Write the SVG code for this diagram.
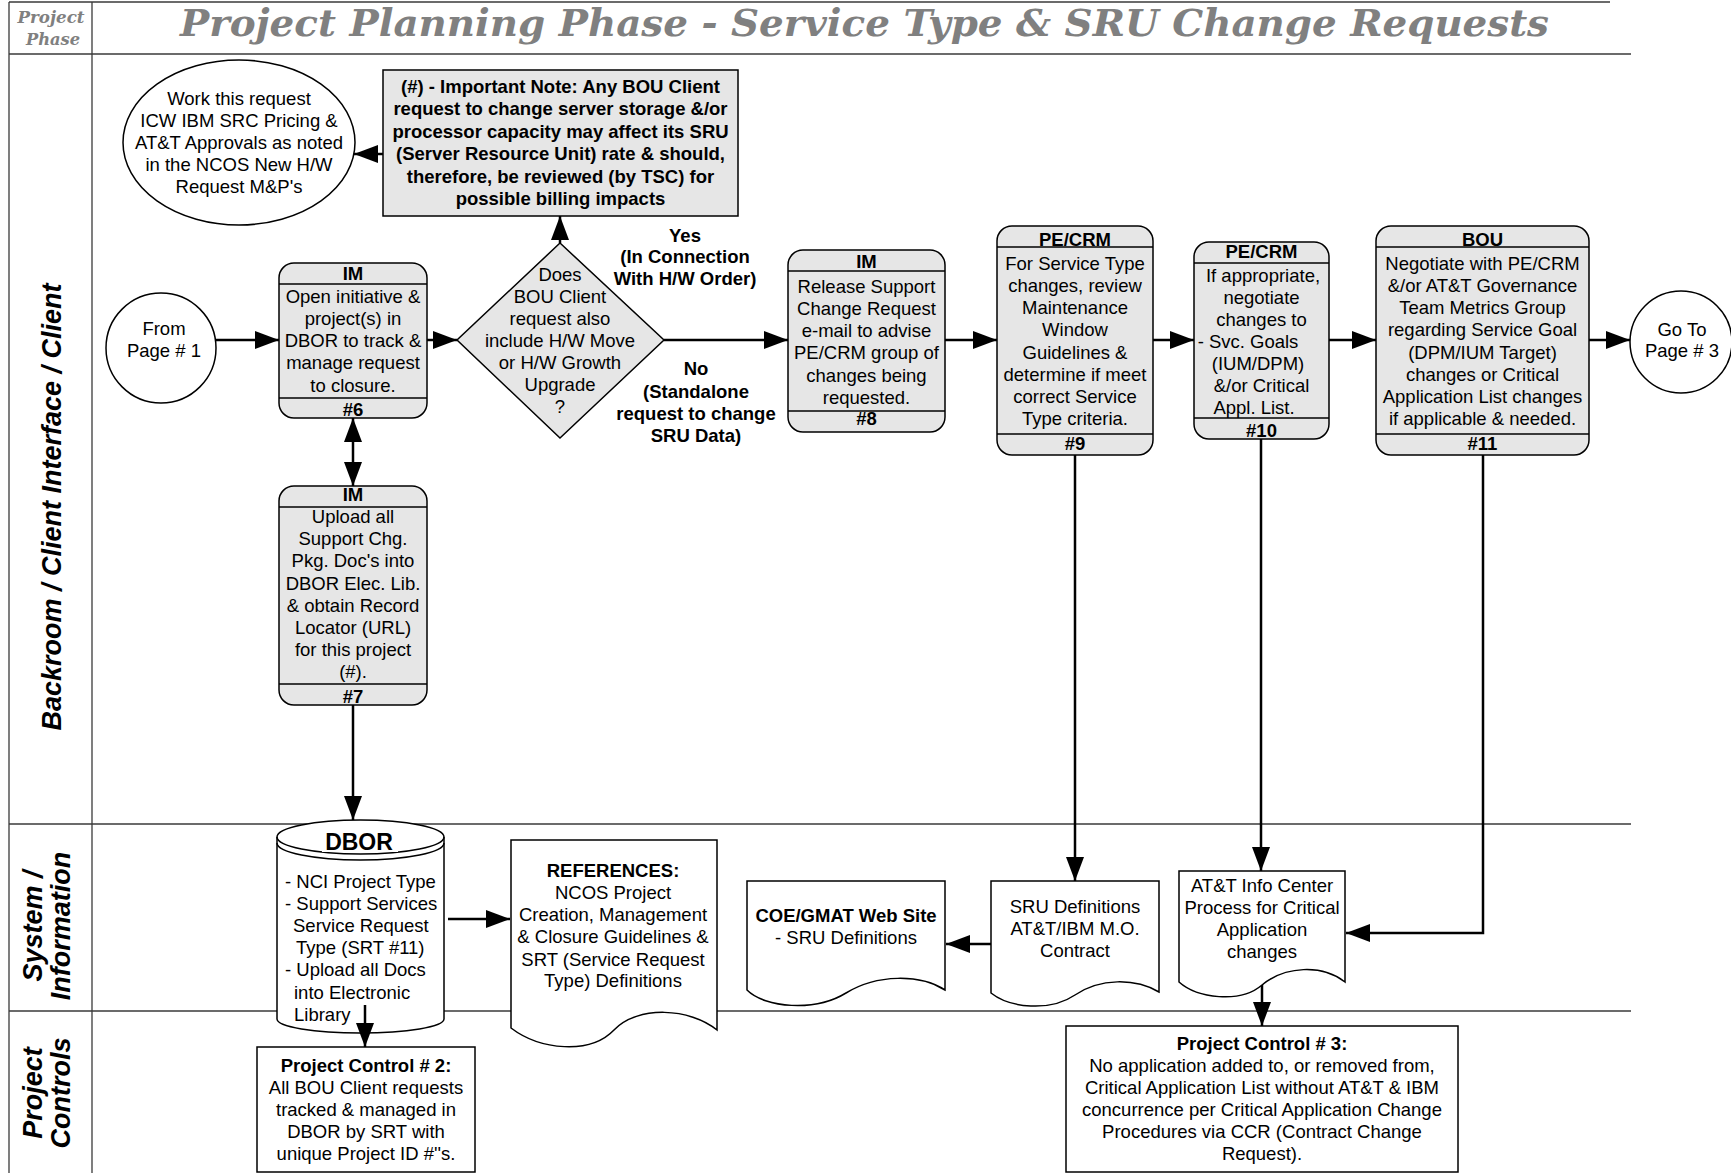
<svg xmlns="http://www.w3.org/2000/svg" width="1731" height="1173" viewBox="0 0 1731 1173">
<style>
.lane{stroke:#3a3a3a;stroke-width:1.3;fill:none}
.box{fill:#e6e6e6;stroke:#000;stroke-width:1.5}
.wbox{fill:#fff;stroke:#000;stroke-width:1.5}
.div{stroke:#000;stroke-width:1.5}
.t{font-family:"Liberation Sans",Arial,sans-serif;font-size:18.5px;text-anchor:middle;fill:#000}
.ts{font-family:"Liberation Sans",Arial,sans-serif;font-size:18.5px;text-anchor:start;fill:#000}
.b{font-weight:bold}
.conn{stroke:#000;stroke-width:2.5;fill:none;marker-end:url(#ah)}
.hdr{font-family:"DejaVu Serif","Liberation Serif",serif;font-weight:bold;font-style:italic;fill:#808080}
.ll{font-family:"Liberation Sans",Arial,sans-serif;font-weight:bold;font-style:italic;font-size:27px;text-anchor:middle;fill:#000}
</style>
<defs>
<marker id="ah" markerUnits="userSpaceOnUse" markerWidth="24" markerHeight="18" refX="24" refY="9" orient="auto-start-reverse">
<path d="M0,0 L24,9 L0,18 z" fill="#000"/>
</marker>
</defs>
<rect width="1731" height="1173" fill="#fff"/>
<g id="lanes">
<line class="lane" x1="9" y1="2" x2="1610" y2="2"/>
<line class="lane" x1="9" y1="54" x2="1631" y2="54"/>
<line class="lane" x1="9" y1="824" x2="1631" y2="824"/>
<line class="lane" x1="9" y1="1011" x2="1631" y2="1011"/>
<line class="lane" x1="9" y1="2" x2="9" y2="1173"/>
<line class="lane" x1="92" y1="2" x2="92" y2="1173"/>
<text class="hdr" x="51" y="23" font-size="16" text-anchor="middle" textLength="67" lengthAdjust="spacingAndGlyphs">Project</text>
<text class="hdr" x="53" y="45" font-size="16" text-anchor="middle" textLength="54" lengthAdjust="spacingAndGlyphs">Phase</text>
<text class="hdr" x="180" y="36" font-size="38" textLength="1369" lengthAdjust="spacingAndGlyphs">Project Planning Phase - Service Type &amp; SRU Change Requests</text>
<text class="ll" transform="translate(61,507) rotate(-90)">Backroom / Client Interface / Client</text>
<text class="ll" transform="translate(42,926) rotate(-90)"><tspan x="0" y="0">System /</tspan><tspan x="0" y="28">Information</tspan></text>
<text class="ll" transform="translate(42,1093) rotate(-90)"><tspan x="0" y="0">Project</tspan><tspan x="0" y="28">Controls</tspan></text>
</g>
<g id="connectors">
<path class="conn" d="M383 154 L354 154"/>
<path class="conn" d="M216 340 L279 340"/>
<path class="conn" d="M427 340 L457 340"/>
<path class="conn" d="M560 243 L560 216"/>
<path class="conn" d="M664 340 L788 340"/>
<path class="conn" d="M945 340 L997 340"/>
<path class="conn" d="M1153 340 L1194 340"/>
<path class="conn" d="M1329 340 L1376 340"/>
<path class="conn" d="M1589 340 L1630 340"/>
<path class="conn" d="M353 418 L353 486" marker-start="url(#ah)"/>
<path class="conn" d="M353 705 L353 820"/>
<path class="conn" d="M448 919 L510 919"/>
<path class="conn" d="M1075 455 L1075 881"/>
<path class="conn" d="M1261 439 L1261 871"/>
<path class="conn" d="M1483 455 L1483 933 L1346 933"/>
<path class="conn" d="M991 944 L946 944"/>
<path class="conn" d="M1262 983 L1262 1026"/>
</g>
<g id="work-circle">
<ellipse class="wbox" cx="239" cy="142.5" rx="116" ry="82.5"/>
<text class="t" x="239" y="105">Work this request</text>
<text class="t" x="239" y="127">ICW IBM SRC Pricing &amp;</text>
<text class="t" x="239" y="149">AT&amp;T Approvals as noted</text>
<text class="t" x="239" y="171">in  the NCOS New H/W</text>
<text class="t" x="239" y="193">Request M&amp;P's</text>
</g>
<g id="note">
<rect class="box" x="383" y="70" width="355" height="146"/>
<text class="t b" x="560.5" y="93">(#) - Important Note: Any BOU Client</text>
<text class="t b" x="560.5" y="115">request to change server storage &amp;/or</text>
<text class="t b" x="560.5" y="138">processor capacity may affect its SRU</text>
<text class="t b" x="560.5" y="160">(Server Resource Unit) rate &amp; should,</text>
<text class="t b" x="560.5" y="183">therefore, be reviewed (by TSC) for</text>
<text class="t b" x="560.5" y="205">possible billing impacts</text>
</g>
<g id="from-page1">
<ellipse class="wbox" cx="161" cy="348" rx="55" ry="55"/>
<text class="t" x="164" y="335">From</text>
<text class="t" x="164" y="357">Page # 1</text>
</g>
<g id="step6">
<rect class="box" x="279" y="263" width="148" height="155" rx="15"/>
<line class="div" x1="279" y1="284" x2="427" y2="284"/>
<line class="div" x1="279" y1="398" x2="427" y2="398"/>
<text class="t b" x="353" y="280">IM</text>
<text class="t" x="353" y="303">Open initiative &amp;</text>
<text class="t" x="353" y="325">project(s) in</text>
<text class="t" x="353" y="347">DBOR to track &amp;</text>
<text class="t" x="353" y="369">manage request</text>
<text class="t" x="353" y="392">to closure.</text>
<text class="t b" x="353" y="416">#6</text>
</g>
<g id="decision">
<polygon class="box" points="560,243 664,340 560,438 457,340"/>
<text class="t" x="560" y="281">Does</text>
<text class="t" x="560" y="303">BOU Client</text>
<text class="t" x="560" y="325">request also</text>
<text class="t" x="560" y="347">include H/W Move</text>
<text class="t" x="560" y="369">or H/W Growth</text>
<text class="t" x="560" y="391">Upgrade</text>
<text class="t" x="560" y="413">?</text>
</g>
<g id="yes-label">
<text class="t b" x="685" y="242">Yes</text>
<text class="t b" x="685" y="263">(In Connection</text>
<text class="t b" x="685" y="285">With H/W Order)</text>
</g>
<g id="no-label">
<text class="t b" x="696" y="375">No</text>
<text class="t b" x="696" y="398">(Standalone</text>
<text class="t b" x="696" y="420">request to change</text>
<text class="t b" x="696" y="442">SRU Data)</text>
</g>
<g id="step8">
<rect class="box" x="788" y="250" width="157" height="182" rx="15"/>
<line class="div" x1="788" y1="271" x2="945" y2="271"/>
<line class="div" x1="788" y1="411" x2="945" y2="411"/>
<text class="t b" x="866.5" y="268">IM</text>
<text class="t" x="866.5" y="293">Release Support</text>
<text class="t" x="866.5" y="315">Change Request</text>
<text class="t" x="866.5" y="337">e-mail  to advise</text>
<text class="t" x="866.5" y="359">PE/CRM group of</text>
<text class="t" x="866.5" y="382">changes being</text>
<text class="t" x="866.5" y="404">requested.</text>
<text class="t b" x="866.5" y="425">#8</text>
</g>
<g id="step9">
<rect class="box" x="997" y="226" width="156" height="229" rx="15"/>
<line class="div" x1="997" y1="247" x2="1153" y2="247"/>
<line class="div" x1="997" y1="434" x2="1153" y2="434"/>
<text class="t b" x="1075" y="246">PE/CRM</text>
<text class="t" x="1075" y="270">For Service Type</text>
<text class="t" x="1075" y="292">changes, review</text>
<text class="t" x="1075" y="314">Maintenance</text>
<text class="t" x="1075" y="336">Window</text>
<text class="t" x="1075" y="359">Guidelines &amp;</text>
<text class="t" x="1075" y="381">determine if meet</text>
<text class="t" x="1075" y="403">correct Service</text>
<text class="t" x="1075" y="425">Type criteria.</text>
<text class="t b" x="1075" y="450">#9</text>
</g>
<g id="step10">
<rect class="box" x="1194" y="242" width="135" height="197" rx="15"/>
<line class="div" x1="1194" y1="263" x2="1329" y2="263"/>
<line class="div" x1="1194" y1="418" x2="1329" y2="418"/>
<text class="t b" x="1261.5" y="258">PE/CRM</text>
<text class="t" x="1263" y="282">If appropriate,</text>
<text class="t" x="1261.5" y="304">negotiate</text>
<text class="t" x="1261.5" y="326">changes to</text>
<text class="t" x="1248" y="348">- Svc. Goals</text>
<text class="t" x="1258" y="370">(IUM/DPM)</text>
<text class="t" x="1261.5" y="392">&amp;/or Critical</text>
<text class="t" x="1254" y="414">Appl.  List.</text>
<text class="t b" x="1261.5" y="437">#10</text>
</g>
<g id="step11">
<rect class="box" x="1376" y="226" width="213" height="229" rx="15"/>
<line class="div" x1="1376" y1="247" x2="1589" y2="247"/>
<line class="div" x1="1376" y1="434" x2="1589" y2="434"/>
<text class="t b" x="1482.5" y="246">BOU</text>
<text class="t" x="1482.5" y="270">Negotiate with PE/CRM</text>
<text class="t" x="1482.5" y="292">&amp;/or AT&amp;T Governance</text>
<text class="t" x="1482.5" y="314">Team Metrics Group</text>
<text class="t" x="1482.5" y="336">regarding Service Goal</text>
<text class="t" x="1482.5" y="359">(DPM/IUM Target)</text>
<text class="t" x="1482.5" y="381">changes or Critical</text>
<text class="t" x="1482.5" y="403">Application List changes</text>
<text class="t" x="1482.5" y="425">if applicable &amp; needed.</text>
<text class="t b" x="1482.5" y="450">#11</text>
</g>
<g id="goto-page3">
<ellipse class="wbox" cx="1681" cy="342" rx="51" ry="51"/>
<text class="t" x="1682" y="336">Go To</text>
<text class="t" x="1682" y="357">Page  # 3</text>
</g>
<g id="step7">
<rect class="box" x="279" y="486" width="148" height="219" rx="15"/>
<line class="div" x1="279" y1="507" x2="427" y2="507"/>
<line class="div" x1="279" y1="684" x2="427" y2="684"/>
<text class="t b" x="353" y="501">IM</text>
<text class="t" x="353" y="523">Upload all</text>
<text class="t" x="353" y="545">Support Chg.</text>
<text class="t" x="353" y="567">Pkg. Doc's into</text>
<text class="t" x="353" y="590">DBOR Elec. Lib.</text>
<text class="t" x="353" y="612">&amp; obtain Record</text>
<text class="t" x="353" y="634">Locator (URL)</text>
<text class="t" x="353" y="656">for this project</text>
<text class="t" x="353" y="678">(#).</text>
<text class="t b" x="353" y="703">#7</text>
</g>
<g id="dbor">
<path class="wbox" d="M277 837 L277 1019 A83.5 14 0 0 0 444 1019 L444 837 A83.5 17 0 0 0 277 837 Z"/>
<path class="div" fill="none" d="M277 837 A83.5 17 0 0 0 444 837"/>
<path class="div" fill="none" d="M277 843 A83.5 17 0 0 0 444 843"/>
<rect x="322" y="826" width="76" height="26" fill="#fff"/>
<text class="t b" x="359" y="850" style="font-size:23px">DBOR</text>
<text class="ts" x="285" y="888">- NCI Project Type</text>
<text class="ts" x="285" y="910">- Support Services</text>
<text class="ts" x="293" y="932">Service Request</text>
<text class="ts" x="296" y="954">Type (SRT #11)</text>
<text class="ts" x="285" y="976">- Upload all Docs</text>
<text class="ts" x="294" y="999">into Electronic</text>
<text class="ts" x="294" y="1021">Library</text>
</g>
<path class="conn" d="M365 1005 L365 1047"/>
<g id="references">
<path class="wbox" d="M511 840 L717 840 L717 1030 C690 1008 638 1005 614 1030 C590 1055 540 1050 511 1028 Z"/>
<text class="t b" x="613" y="877">REFERENCES:</text>
<text class="t" x="613" y="899">NCOS Project</text>
<text class="t" x="613" y="921">Creation, Management</text>
<text class="t" x="613" y="943">&amp; Closure Guidelines &amp;</text>
<text class="t" x="613" y="966">SRT (Service Request</text>
<text class="t" x="613" y="987">Type) Definitions</text>
</g>
<g id="pc2">
<rect class="wbox" x="257" y="1047" width="218" height="125"/>
<text class="t b" x="366" y="1072">Project Control # 2:</text>
<text class="t" x="366" y="1094">All BOU Client requests</text>
<text class="t" x="366" y="1116">tracked &amp; managed in</text>
<text class="t" x="366" y="1138">DBOR by SRT with</text>
<text class="t" x="366" y="1160">unique Project ID #''s.</text>
</g>
<g id="coe">
<path class="wbox" d="M747 881 L945 881 L945 990 C920 974 877 974 846 993 C815 1012 765 1008 747 990 Z"/>
<text class="t b" x="846" y="922">COE/GMAT Web Site</text>
<text class="t" x="846" y="944">- SRU Definitions</text>
</g>
<g id="sru">
<path class="wbox" d="M991 881 L1159 881 L1159 992 C1135 978 1100 978 1075 995 C1050 1012 1010 1008 991 993 Z"/>
<text class="t" x="1075" y="913">SRU Definitions</text>
<text class="t" x="1075" y="935">AT&amp;T/IBM M.O.</text>
<text class="t" x="1075" y="957">Contract</text>
</g>
<g id="attinfo">
<path class="wbox" d="M1179 871 L1345 871 L1345 982 C1322 964 1285 966 1262 985 C1240 1004 1197 998 1179 982 Z"/>
<text class="t" x="1262" y="892">AT&amp;T Info Center</text>
<text class="t" x="1262" y="914">Process for Critical</text>
<text class="t" x="1262" y="936">Application</text>
<text class="t" x="1262" y="958">changes</text>
</g>
<g id="pc3">
<rect class="wbox" x="1066" y="1026" width="392" height="146"/>
<text class="t b" x="1262" y="1050">Project Control # 3:</text>
<text class="t" x="1262" y="1072">No application added to, or removed from,</text>
<text class="t" x="1262" y="1094">Critical Application List without AT&amp;T &amp;  IBM</text>
<text class="t" x="1262" y="1116">concurrence per Critical Application Change</text>
<text class="t" x="1262" y="1138">Procedures via CCR (Contract Change</text>
<text class="t" x="1262" y="1160">Request).</text>
</g>
</svg>
